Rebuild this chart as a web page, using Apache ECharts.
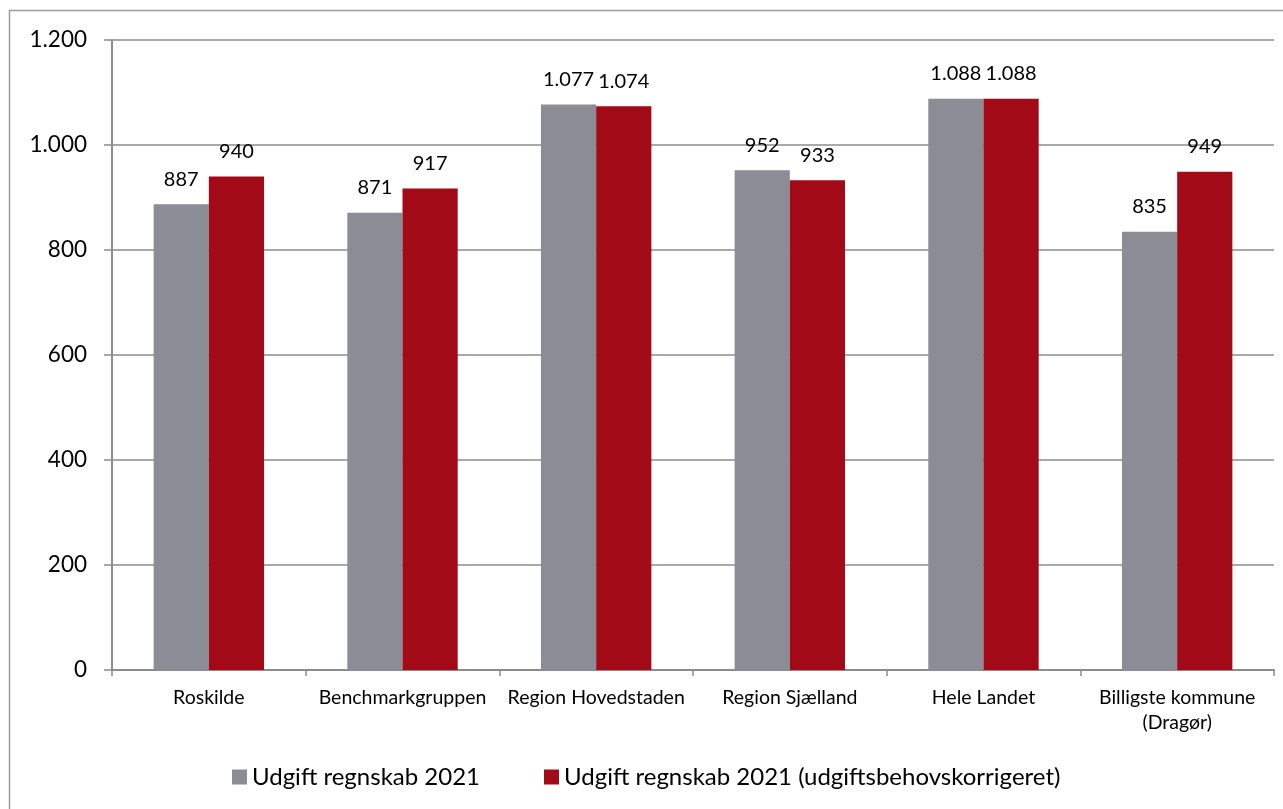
<!DOCTYPE html>
<html><head><meta charset="utf-8">
<script src="https://cdn.jsdelivr.net/npm/echarts@6/dist/echarts.min.js"></script>
<style>html,body{margin:0;padding:0;background:#fff}#c{width:1283px;height:809px}</style>
</head><body><div id="c"></div>
<script>
const categories = ['Roskilde','Benchmarkgruppen','Region Hovedstaden','Region Sjælland','Hele Landet','Billigste kommune\n(Dragør)'];
const seriesNames = ['Udgift regnskab 2021','Udgift regnskab 2021 (udgiftsbehovskorrigeret)'];
const udgift = [887, 871, 1077, 952, 1088, 835];
const udgiftKorr = [940, 917, 1074, 933, 1088, 949];
const yTicks = [0, 200, 400, 600, 800, 1000, 1200];

const fmt = v => String(v).replace(/\B(?=(\d{3})+(?!\d))/g, '.');
const FONT = 'Lato';
const chart = echarts.init(document.getElementById('c'));
chart.setOption({
  animation: false,
  textStyle: {fontFamily: FONT},
  graphic: [{type:'rect', shape:{x:9.5,y:10.5,width:1290,height:820}, style:{fill:'none', stroke:'#9a9a9a', lineWidth:1.5}, silent:true}],
  grid: {left:112, right:9, top:40, bottom:139},
  legend: {
    top: 765, left: 232, padding: 0, itemWidth: 15, itemHeight: 15, itemGap: 64,
    textStyle: {fontSize: 24, lineHeight: 24, color:'#000', fontFamily: FONT},
    icon: 'rect',
    data: seriesNames
  },
  xAxis: {
    type:'category', data: categories,
    axisLine:{lineStyle:{color:'#8c8c8c', width:2}},
    axisTick:{show:true, length:6, lineStyle:{color:'#8c8c8c', width:1.5}},
    axisLabel:{interval:0, fontSize:19.5, color:'#000', margin:15, lineHeight:25, fontFamily: FONT}
  },
  yAxis: {
    type:'value', min: yTicks[0], max: yTicks[yTicks.length-1], interval: 200,
    axisLine:{show:true, lineStyle:{color:'#8c8c8c', width:2}},
    axisTick:{show:true, length:8, lineStyle:{color:'#8c8c8c', width:1.5}},
    splitLine:{lineStyle:{color:'#8c8c8c', width:1.5}},
    axisLabel:{fontSize:22.5, color:'#000', margin:25, formatter: v => fmt(v), fontFamily: FONT}
  },
  series: [
    {name: seriesNames[0], type:'bar', data: udgift, barGap:'0%', barCategoryGap:'43%',
     itemStyle:{color:'#8a8d96'},
     label:{show:true, position:'top', distance:15, fontSize:20, color:'#000', formatter: p => fmt(p.value), fontFamily: FONT}},
    {name: seriesNames[1], type:'bar', data: udgiftKorr, barGap:'0%', barCategoryGap:'43%',
     itemStyle:{color:'#a20a17'},
     label:{show:true, position:'top', distance:15, fontSize:20, color:'#000', formatter: p => fmt(p.value), fontFamily: FONT}}
  ]
});
</script></body></html>
